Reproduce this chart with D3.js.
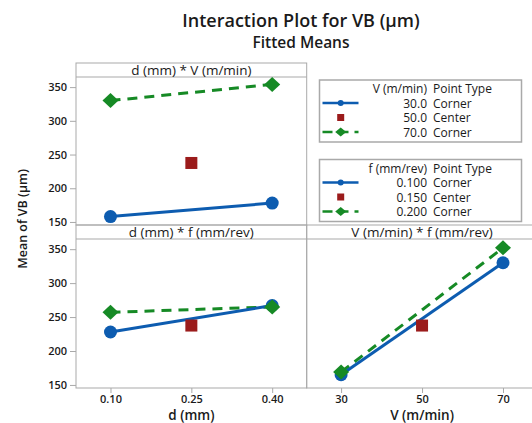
<!DOCTYPE html>
<html>
<head>
<meta charset="utf-8">
<script src="https://cdn.jsdelivr.net/npm/d3@7"></script>
<style>
  body { margin: 0; background: #fff; }
  text { font-family: "Open Sans", "DejaVu Sans", sans-serif; fill: #1a1a1a; }
</style>
</head>
<body>
<div id="chart"></div>
<script>
// factor levels
const dLevels = [0.10, 0.25, 0.40]
const vLevels = [30, 50, 70]
const dTickLabels = ["0.10", "0.25", "0.40"]
const vTickLabels = ["30", "50", "70"]
const yTicks = [150, 200, 250, 300, 350]

// fitted means (corner points at low/high level, center point in the middle)
const dV_v30 = [158, 178]
const dV_v70 = [330, 354]
const dF_f010 = [228, 267]
const dF_f020 = [257, 265]
const vF_f010 = [165, 330]
const vF_f020 = [169, 352]
const centerMean = 237.5

const vLegend = ["30.0", "50.0", "70.0"]
const fLegend = ["0.100", "0.150", "0.200"]
const pointTypes = ["Corner", "Center", "Corner"]

const blue = "#0d5cb0", green = "#168a25", red = "#9b1b1b", grid = "#a9a9a9"

const W = 532, H = 423
const svg = d3.select("#chart").append("svg").attr("width", W).attr("height", H)

svg.append("text").attr("x", 301).attr("y", 26.5).attr("text-anchor", "middle")
    .style("font-size", "18px").style("font-weight", 600).text("Interaction Plot for VB (µm)")
svg.append("text").attr("x", 301).attr("y", 48).attr("text-anchor", "middle")
    .style("font-size", "15.5px").style("font-weight", 600).text("Fitted Means")

const stripH = 14
const panels = [
    { title: "d (mm) * V (m/min)", left: 76, top: 63, bottom: 225, levels: dLevels,
      domain: [0.036, 0.464], low: dV_v30, high: dV_v70, yAxis: true, xAxis: null },
    { title: "d (mm) * f (mm/rev)", left: 76, top: 225, bottom: 388, levels: dLevels,
      domain: [0.036, 0.464], low: dF_f010, high: dF_f020, yAxis: true,
      xAxis: { labels: dTickLabels, title: "d (mm)" } },
    { title: "V (m/min) * f (mm/rev)", left: 306.7, top: 225, bottom: 388, levels: vLevels,
      domain: [21.5, 78.5], low: vF_f010, high: vF_f020, yAxis: false,
      xAxis: { labels: vTickLabels, title: "V (m/min)" } }
]
const pw = 230.7

panels.forEach(p => {
    const g = svg.append("g")
    const plotTop = p.top + stripH
    const x = d3.scaleLinear().domain(p.domain).range([p.left, p.left + pw])
    const y = d3.scaleLinear().domain([145.5, 365]).range([p.bottom, plotTop])

    g.append("rect").attr("x", p.left).attr("y", p.top).attr("width", pw)
        .attr("height", p.bottom - p.top).attr("fill", "none").attr("stroke", grid)
    g.append("line").attr("x1", p.left).attr("x2", p.left + pw)
        .attr("y1", plotTop).attr("y2", plotTop).attr("stroke", grid)
    g.append("text").attr("x", p.left + pw / 2).attr("y", p.top + 11.5)
        .attr("text-anchor", "middle").style("font-size", "13.5px").style("font-weight", 500)
        .text(p.title)

    if (p.yAxis) {
        const ya = g.append("g").attr("transform", `translate(${p.left},0)`)
            .call(d3.axisLeft(y).tickValues(yTicks).tickSize(6).tickPadding(3))
        ya.select(".domain").remove()
        ya.selectAll("line").attr("stroke", grid)
        ya.selectAll("text").style("font-size", "11px").style("font-weight", 600)
            .style("font-family", null).attr("fill", "#222")
    }
    if (p.xAxis) {
        const xa = g.append("g").attr("transform", `translate(0,${p.bottom})`)
            .call(d3.axisBottom(x).tickValues(p.levels).tickFormat((d, i) => p.xAxis.labels[i])
                .tickSize(5).tickPadding(2))
        xa.select(".domain").remove()
        xa.selectAll("line").attr("stroke", grid)
        xa.selectAll("text").style("font-size", "11px").style("font-weight", 600)
            .style("font-family", null).attr("fill", "#222")
        g.append("text").attr("x", p.left + pw / 2).attr("y", 419.5)
            .attr("text-anchor", "middle").style("font-size", "13.5px").style("font-weight", 600)
            .text(p.xAxis.title)
    }

    const ends = [p.levels[0], p.levels[2]]
    const line = d3.line().x(d => x(d[0])).y(d => y(d[1]))
    const hi = ends.map((l, i) => [l, p.high[i]])
    const lo = ends.map((l, i) => [l, p.low[i]])

    g.append("path").attr("d", line(hi)).attr("fill", "none").attr("stroke", green)
        .attr("stroke-width", 3).attr("stroke-dasharray", "10,7")
    g.append("path").attr("d", line(lo)).attr("fill", "none").attr("stroke", blue)
        .attr("stroke-width", 3)

    g.selectAll(".lo").data(lo).enter().append("circle")
        .attr("cx", d => x(d[0])).attr("cy", d => y(d[1])).attr("r", 6.5).attr("fill", blue)
    g.selectAll(".hi").data(hi).enter().append("path")
        .attr("transform", d => `translate(${x(d[0])},${y(d[1])})`)
        .attr("d", "M0,-7.5L8,0L0,7.5L-8,0Z").attr("fill", green)
    g.append("rect").attr("x", x(p.levels[1]) - 6).attr("y", y(centerMean) - 6)
        .attr("width", 12).attr("height", 12).attr("fill", red)
})

// y axis title
svg.append("text").attr("transform", "translate(27,219) rotate(-90)")
    .attr("text-anchor", "middle").style("font-size", "12.5px").style("font-weight", 600)
    .text("Mean of VB (µm)")

// legends
function drawLegend(top, header, labels) {
    const g = svg.append("g")
    g.append("rect").attr("x", 319.5).attr("y", top).attr("width", 202).attr("height", 62)
        .attr("fill", "none").attr("stroke", grid).attr("stroke-width", 1.5)
    const rows = [top + 13, top + 27.5, top + 42, top + 56.5]
    g.append("text").attr("x", 427).attr("y", rows[0]).attr("text-anchor", "end")
        .style("font-size", "12px").text(header)
    g.append("text").attr("x", 433).attr("y", rows[0])
        .style("font-size", "12px").text("Point Type")
    labels.forEach((lab, i) => {
        g.append("text").attr("x", 427).attr("y", rows[i + 1]).attr("text-anchor", "end")
            .style("font-size", "12px").text(lab)
        g.append("text").attr("x", 433).attr("y", rows[i + 1])
            .style("font-size", "12px").text(pointTypes[i])
    })
    const cy = rows.slice(1).map(r => r - 4.5)
    g.append("line").attr("x1", 322.5).attr("x2", 358.5).attr("y1", cy[0]).attr("y2", cy[0])
        .attr("stroke", blue).attr("stroke-width", 2.5)
    g.append("circle").attr("cx", 340.7).attr("cy", cy[0]).attr("r", 3).attr("fill", blue)
    g.append("rect").attr("x", 337.2).attr("y", cy[1] - 3.5).attr("width", 7).attr("height", 7)
        .attr("fill", red)
    g.append("line").attr("x1", 322.5).attr("x2", 358.5).attr("y1", cy[2]).attr("y2", cy[2])
        .attr("stroke", green).attr("stroke-width", 2.5).attr("stroke-dasharray", "10,6")
    g.append("path").attr("transform", `translate(340.7,${cy[2]})`)
        .attr("d", "M0,-4.5L5.5,0L0,4.5L-5.5,0Z").attr("fill", green)
}
drawLegend(80, "V (m/min)", vLegend)
drawLegend(159.5, "f (mm/rev)", fLegend)
</script>
</body>
</html>
